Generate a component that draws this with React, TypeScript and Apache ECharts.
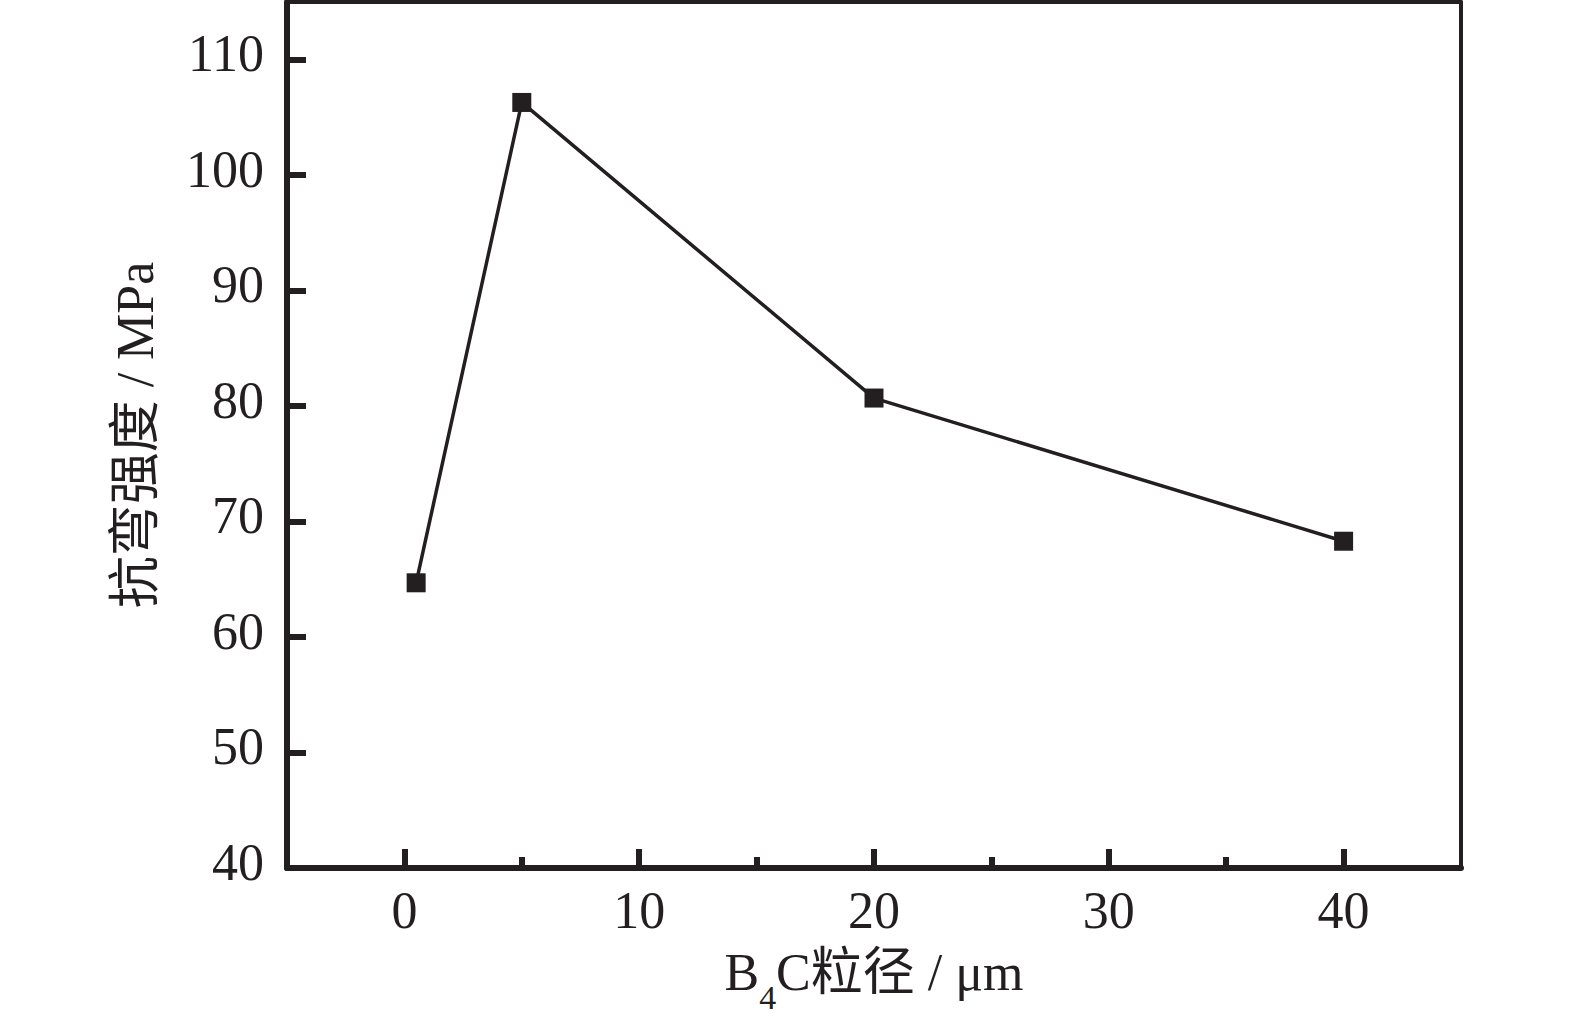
import React, { useEffect, useRef } from "react";
import * as echarts from "echarts";

const particleSize = [0.5, 5, 20, 40];
const flexuralStrength = [64.7, 106.3, 80.7, 68.3];
const xMajorTicks = [0, 10, 20, 30, 40];
const xMinorTicks = [5, 15, 25, 35];
const yTicks = [40, 50, 60, 70, 80, 90, 100, 110];
const xName = "{n|B}{s|4}{n|C粒径 / μm}";
const yName = "抗弯强度 / MPa";

const INK = "#231f20";
const FONT = "'Liberation Serif', 'Times New Roman', 'Noto Sans CJK SC', serif";

export default function App() {
  const ref = useRef<HTMLDivElement>(null);
  useEffect(() => {
    document.body.style.margin = "0";
    const chart = echarts.init(ref.current!, null, { renderer: "svg" });
    const xRange = { min: -5, max: 45 };
    const yRange = { min: 40, max: 115 };
    chart.setOption({
      animation: false,
      backgroundColor: "#ffffff",
      grid: { left: 287, right: 114, top: 2, bottom: 151, outerBoundsMode: "none" },
      xAxis: [
        {
          type: "value",
          position: "bottom",
          ...xRange,
          interval: 5,
          axisLine: { show: true, onZero: false, lineStyle: { color: INK, width: 6 } },
          axisTick: { show: true, inside: true, length: 19, lineStyle: { color: INK, width: 6 }, customValues: xMajorTicks },
          axisLabel: {
            show: true,
            customValues: xMajorTicks,
            margin: 16,
            color: INK,
            fontFamily: FONT,
            fontSize: 52,
            lineHeight: 52,
          },
          splitLine: { show: false },
          name: xName,
          nameLocation: "middle",
          nameGap: 78,
          nameTextStyle: {
            color: INK,
            fontFamily: FONT,
            rich: {
              n: { fontFamily: FONT, fontSize: 52, lineHeight: 52, color: INK, verticalAlign: "top" },
              s: { fontFamily: FONT, fontSize: 34, lineHeight: 68, color: INK, verticalAlign: "bottom" },
            },
          },
        },
        {
          type: "value",
          position: "bottom",
          ...xRange,
          interval: 5,
          axisLine: { show: false, onZero: false },
          axisTick: { show: true, inside: true, length: 11, lineStyle: { color: INK, width: 6 }, customValues: xMinorTicks },
          axisLabel: { show: false },
          splitLine: { show: false },
        },
        {
          type: "value",
          position: "top",
          ...xRange,
          interval: 5,
          axisLine: { show: true, onZero: false, lineStyle: { color: INK, width: 4 } },
          axisTick: { show: false },
          axisLabel: { show: false },
          splitLine: { show: false },
        },
      ],
      yAxis: [
        {
          type: "value",
          position: "left",
          ...yRange,
          interval: 10,
          axisLine: { show: true, onZero: false, lineStyle: { color: INK, width: 6 } },
          axisTick: { show: true, inside: true, length: 19, lineStyle: { color: INK, width: 6 }, customValues: yTicks },
          axisLabel: {
            show: true,
            customValues: yTicks,
            margin: 23,
            color: INK,
            fontFamily: FONT,
            fontSize: 52,
            lineHeight: 12,
            verticalAlign: "bottom",
          },
          splitLine: { show: false },
          name: yName,
          nameLocation: "middle",
          nameGap: 126,
          nameTextStyle: { color: INK, fontFamily: FONT, fontSize: 52, lineHeight: 52 },
        },
        {
          type: "value",
          position: "right",
          ...yRange,
          interval: 10,
          axisLine: { show: true, onZero: false, lineStyle: { color: INK, width: 4 } },
          axisTick: { show: false },
          axisLabel: { show: false },
          splitLine: { show: false },
        },
      ],
      series: [
        {
          type: "line",
          xAxisIndex: 0,
          yAxisIndex: 0,
          data: particleSize.map((x, i) => [x, flexuralStrength[i]]),
          symbol: "rect",
          symbolSize: 19,
          itemStyle: { color: INK },
          lineStyle: { color: INK, width: 3.5 },
        },
      ],
    });
    return () => chart.dispose();
  }, []);
  return <div ref={ref} style={{ width: 1575, height: 1019 }} />;
}
